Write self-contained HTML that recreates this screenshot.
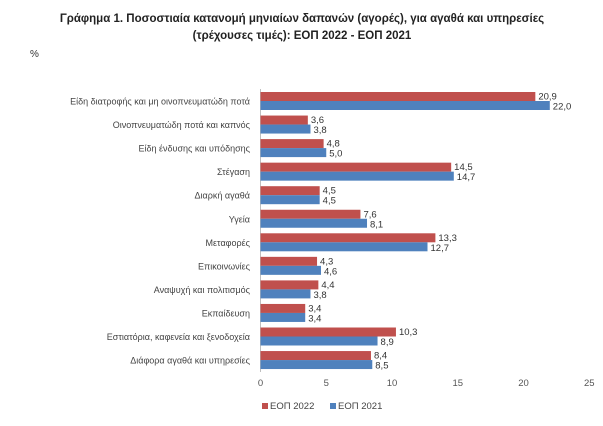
<!DOCTYPE html>
<html><head><meta charset="utf-8"><style>
body{margin:0;background:#fff;font-family:"Liberation Sans","DejaVu Sans",sans-serif}
svg text{font-family:"Liberation Sans","DejaVu Sans",sans-serif}
</style></head><body>
<svg id="c" width="603" height="421" xmlns="http://www.w3.org/2000/svg">
<text x="302" y="22" text-anchor="middle" font-size="11.5" font-weight="bold" fill="#222">Γράφημα 1. Ποσοστιαία κατανομή μηνιαίων δαπανών (αγορές), για αγαθά και υπηρεσίες</text>
<text x="302" y="39" text-anchor="middle" font-size="11.5" font-weight="bold" fill="#222">(τρέχουσες τιμές): ΕΟΠ 2022 - ΕΟΠ 2021</text>
<text x="30" y="57" font-size="10" fill="#333">%</text>
<g id="g"></g>
</svg>
<script>
const categories=["Είδη διατροφής και μη οινοπνευματώδη ποτά","Οινοπνευματώδη ποτά και καπνός","Είδη ένδυσης και υπόδησης","Στέγαση","Διαρκή αγαθά","Υγεία","Μεταφορές","Επικοινωνίες","Αναψυχή και πολιτισμός","Εκπαίδευση","Εστιατόρια, καφενεία  και ξενοδοχεία","Διάφορα αγαθά και υπηρεσίες"];
const eop2022=[20.9,3.6,4.8,14.5,4.5,7.6,13.3,4.3,4.4,3.4,10.3,8.4];
const eop2021=[22.0,3.8,5.0,14.7,4.5,8.1,12.7,4.6,3.8,3.4,8.9,8.5];
const ticks=[0,5,10,15,20,25];
const NS="http://www.w3.org/2000/svg",g=document.getElementById('g');
const x=v=>260.5+v*13.15;
const yc=i=>101+i*23.55;
function mk(t,a,txt){const e=document.createElementNS(NS,t);for(const k in a)e.setAttribute(k,a[k]);if(txt!=null)e.textContent=txt;g.appendChild(e);return e;}
const fmt=v=>v.toFixed(1).replace('.',',');
let ax=mk('line',{x1:260.5,x2:260.5,y1:89,y2:372,stroke:'#bfbfbf'});


categories.forEach((c,i)=>{
 let t=mk('text',{x:250,y:yc(i)+3.5,'text-anchor':'end','font-size':'9',fill:'#444'},c);
 
 
 let r=mk('rect',{x:260.5,y:yc(i)-9,width:x(eop2022[i])-260.5,height:9,fill:'#c0504d'});
 
 
 let b=mk('rect',{x:260.5,y:yc(i),width:x(eop2021[i])-260.5,height:9,fill:'#4f81bd'});
 
 
 let l1=mk('text',{x:x(eop2022[i])+3,y:yc(i)-1.5,'font-size':'9.5',fill:'#333'},fmt(eop2022[i]));
 
 
 let l2=mk('text',{x:x(eop2021[i])+3,y:yc(i)+8.5,'font-size':'9.5',fill:'#333'},fmt(eop2021[i]));
 
 
});
ticks.forEach(v=>{
 let t=mk('text',{x:x(v),y:386,'text-anchor':'middle','font-size':'9.5',fill:'#555'},v);
 
 
});
let s1=mk('rect',{x:262,y:403,width:6,height:6,fill:'#c0504d'});


let t1=mk('text',{x:270,y:409,'font-size':'9.5',fill:'#444'},'ΕΟΠ 2022');


let s2=mk('rect',{x:330,y:403,width:6,height:6,fill:'#4f81bd'});


let t2=mk('text',{x:338,y:409,'font-size':'9.5',fill:'#444'},'ΕΟΠ 2021');


</script>
</body></html>
